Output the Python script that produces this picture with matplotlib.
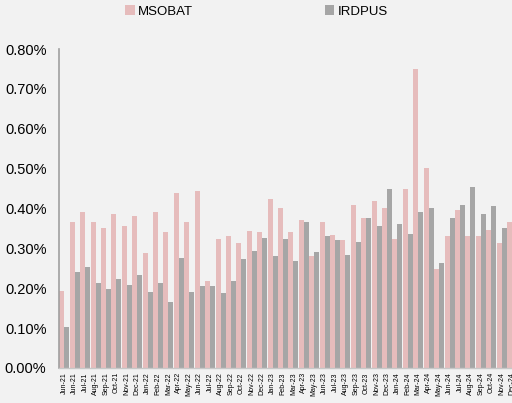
import matplotlib
matplotlib.use("Agg")
import matplotlib.pyplot as plt
import numpy as np
from matplotlib.ticker import FuncFormatter

months = ['Jun-21', 'Jun-21', 'Jul-21', 'Aug-21', 'Sep-21', 'Oct-21', 'Nov-21', 'Dec-21',
          'Jan-22', 'Feb-22', 'Mar-22', 'Apr-22', 'May-22', 'Jun-22', 'Jul-22', 'Aug-22',
          'Sep-22', 'Oct-22', 'Nov-22', 'Dec-22', 'Jan-23', 'Feb-23', 'Mar-23', 'Apr-23',
          'May-23', 'Jun-23', 'Jul-23', 'Aug-23', 'Sep-23', 'Oct-23', 'Nov-23', 'Dec-23',
          'Jan-24', 'Feb-24', 'Mar-24', 'Apr-24', 'May-24', 'Jun-24', 'Jul-24', 'Aug-24',
          'Sep-24', 'Oct-24', 'Nov-24', 'Dec-24']

# values in %
msobat = [0.194, 0.367, 0.390, 0.365, 0.352, 0.387, 0.357, 0.380, 0.289, 0.392, 0.340,
          0.440, 0.367, 0.445, 0.219, 0.324, 0.332, 0.314, 0.344, 0.342, 0.423, 0.400,
          0.342, 0.372, 0.282, 0.365, 0.334, 0.322, 0.408, 0.377, 0.420, 0.400, 0.324,
          0.450, 0.750, 0.501, 0.247, 0.330, 0.397, 0.330, 0.330, 0.347, 0.314, 0.365]
irdpus = [0.103, 0.241, 0.254, 0.214, 0.199, 0.224, 0.209, 0.234, 0.191, 0.214, 0.166,
          0.277, 0.191, 0.206, 0.206, 0.189, 0.219, 0.274, 0.294, 0.327, 0.282, 0.324,
          0.269, 0.365, 0.292, 0.332, 0.322, 0.284, 0.317, 0.377, 0.355, 0.448, 0.360,
          0.337, 0.392, 0.402, 0.264, 0.377, 0.408, 0.455, 0.387, 0.405, 0.352, 0.360]

plt.rcParams['font.family'] = ['Liberation Sans', 'DejaVu Sans']
bg = '#f2f2f2'
pink = '#e6bcbc'
grey = '#a6a6a6'

fig = plt.figure(figsize=(5.12, 4.03), dpi=100, facecolor=bg)
ax = fig.add_axes([0.1152, 0.0869, 0.8848, 0.7915], facecolor=bg)

x = np.arange(len(months))
w = 0.48
ax.bar(x - w / 2, msobat, width=w, color=pink, label='MSOBAT')
ax.bar(x + w / 2, irdpus, width=w, color=grey, label='IRDPUS')

ax.set_ylim(0, 0.8)
ax.set_xlim(-0.52, 43.0)
ax.set_yticks(np.arange(0, 0.81, 0.1))
ax.yaxis.set_major_formatter(FuncFormatter(lambda v, p: f"{v:.2f}%"))
ax.tick_params(axis='y', length=0, labelsize=10.5, pad=9, colors='#000000')
ax.set_xticks(x)
ax.set_xticklabels(months, rotation=90, fontsize=5)
ax.tick_params(axis='x', length=0, pad=3)

for s in ['top', 'right']:
    ax.spines[s].set_visible(False)
ax.spines['left'].set_color('#a0a0a0')
ax.spines['left'].set_linewidth(1.2)
ax.spines['bottom'].set_color('#c8c8c8')
ax.spines['bottom'].set_linewidth(1.0)

# legend across the top
fig.legend(loc='upper left', bbox_to_anchor=(0.232, 1.003), ncol=2, frameon=False,
           fontsize=9.5, handlelength=0.7, handleheight=0.7, handletextpad=0.25,
           columnspacing=10.0, borderpad=0)

plt.savefig('out.png', dpi=100, facecolor=bg)
